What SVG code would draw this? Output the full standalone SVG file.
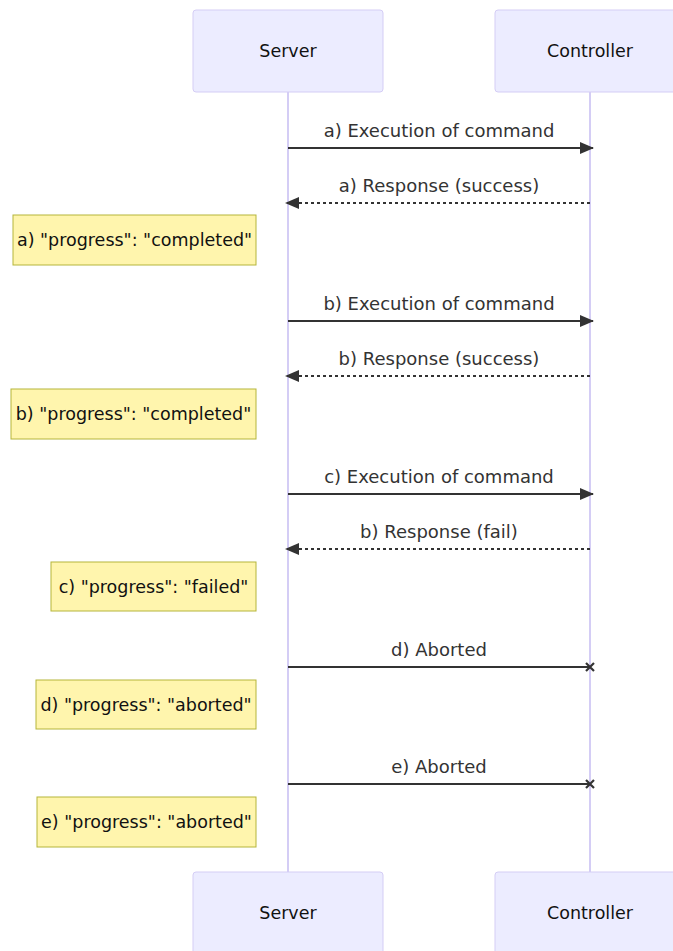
<svg xmlns="http://www.w3.org/2000/svg" width="673" height="951" viewBox="0 0 673 951">
<style>
.actor{fill:#ECECFF;stroke:#d4cdf5;stroke-width:1}
.atext{font-family:"DejaVu Sans",sans-serif;font-size:17.5px;fill:#111;text-anchor:middle}
.life{stroke:#d4cdf5;stroke-width:2}
.msg{stroke:#333;stroke-width:2;fill:none}
.dash{stroke-dasharray:3,3}
.mtext{font-family:"DejaVu Sans",sans-serif;font-size:18px;fill:#333;text-anchor:middle}
.note{fill:#fff5ad;stroke:#b5b53a;stroke-width:1}
.ntext{font-family:"DejaVu Sans",sans-serif;font-size:17.5px;fill:#111;text-anchor:middle}
</style>
<defs>
<marker id="arrow" viewBox="0 0 14 12" refX="13" refY="6" markerWidth="14" markerHeight="12" markerUnits="userSpaceOnUse" orient="auto">
<path d="M0,0 L14,6 L0,12 z" fill="#333"/>
</marker>
<marker id="cross" viewBox="0 0 12 12" refX="6" refY="6" markerWidth="12" markerHeight="12" markerUnits="userSpaceOnUse" orient="auto">
<path d="M2,2 L10,10 M2,10 L10,2" stroke="#333" stroke-width="2.2"/>
</marker>
</defs>
<g id="lifelines">
<line class="life" x1="288" y1="92" x2="288" y2="872"/>
<line class="life" x1="590" y1="92" x2="590" y2="872"/>
</g>
<g id="actor-server-top"><rect class="actor" x="193" y="10" width="190" height="82" rx="3"/><text class="atext" x="288" y="57">Server</text></g>
<g id="actor-controller-top"><rect class="actor" x="495" y="10" width="190" height="82" rx="3"/><text class="atext" x="590" y="57">Controller</text></g>
<g id="actor-server-bottom"><rect class="actor" x="193" y="872" width="190" height="82" rx="3"/><text class="atext" x="288" y="919">Server</text></g>
<g id="actor-controller-bottom"><rect class="actor" x="495" y="872" width="190" height="82" rx="3"/><text class="atext" x="590" y="919">Controller</text></g>
<g id="connectors">
<text class="mtext" x="439" y="137">a) Execution of command</text>
<line class="msg" x1="288" y1="148" x2="593" y2="148" marker-end="url(#arrow)"/>
<text class="mtext" x="439" y="192">a) Response (success)</text>
<line class="msg dash" x1="590" y1="203" x2="286" y2="203" marker-end="url(#arrow)"/>
<text class="mtext" x="439" y="310">b) Execution of command</text>
<line class="msg" x1="288" y1="321" x2="593" y2="321" marker-end="url(#arrow)"/>
<text class="mtext" x="439" y="365">b) Response (success)</text>
<line class="msg dash" x1="590" y1="376" x2="286" y2="376" marker-end="url(#arrow)"/>
<text class="mtext" x="439" y="483">c) Execution of command</text>
<line class="msg" x1="288" y1="494" x2="593" y2="494" marker-end="url(#arrow)"/>
<text class="mtext" x="439" y="538">b) Response (fail)</text>
<line class="msg dash" x1="590" y1="549" x2="286" y2="549" marker-end="url(#arrow)"/>
<text class="mtext" x="439" y="656">d) Aborted</text>
<line class="msg" x1="288" y1="667" x2="590" y2="667" marker-end="url(#cross)"/>
<text class="mtext" x="439" y="773">e) Aborted</text>
<line class="msg" x1="288" y1="784" x2="590" y2="784" marker-end="url(#cross)"/>
</g>
<g id="note-a"><rect class="note" x="13" y="215" width="243" height="50"/><text class="ntext" x="134.5" y="246">a) "progress": "completed"</text></g>
<g id="note-b"><rect class="note" x="11" y="389" width="245" height="50"/><text class="ntext" x="133.5" y="420">b) "progress": "completed"</text></g>
<g id="note-c"><rect class="note" x="51" y="562" width="205" height="49"/><text class="ntext" x="153.5" y="593">c) "progress": "failed"</text></g>
<g id="note-d"><rect class="note" x="36" y="680" width="220" height="49"/><text class="ntext" x="146" y="711">d) "progress": "aborted"</text></g>
<g id="note-e"><rect class="note" x="37" y="797" width="219" height="50"/><text class="ntext" x="146.5" y="828">e) "progress": "aborted"</text></g>
</svg>
